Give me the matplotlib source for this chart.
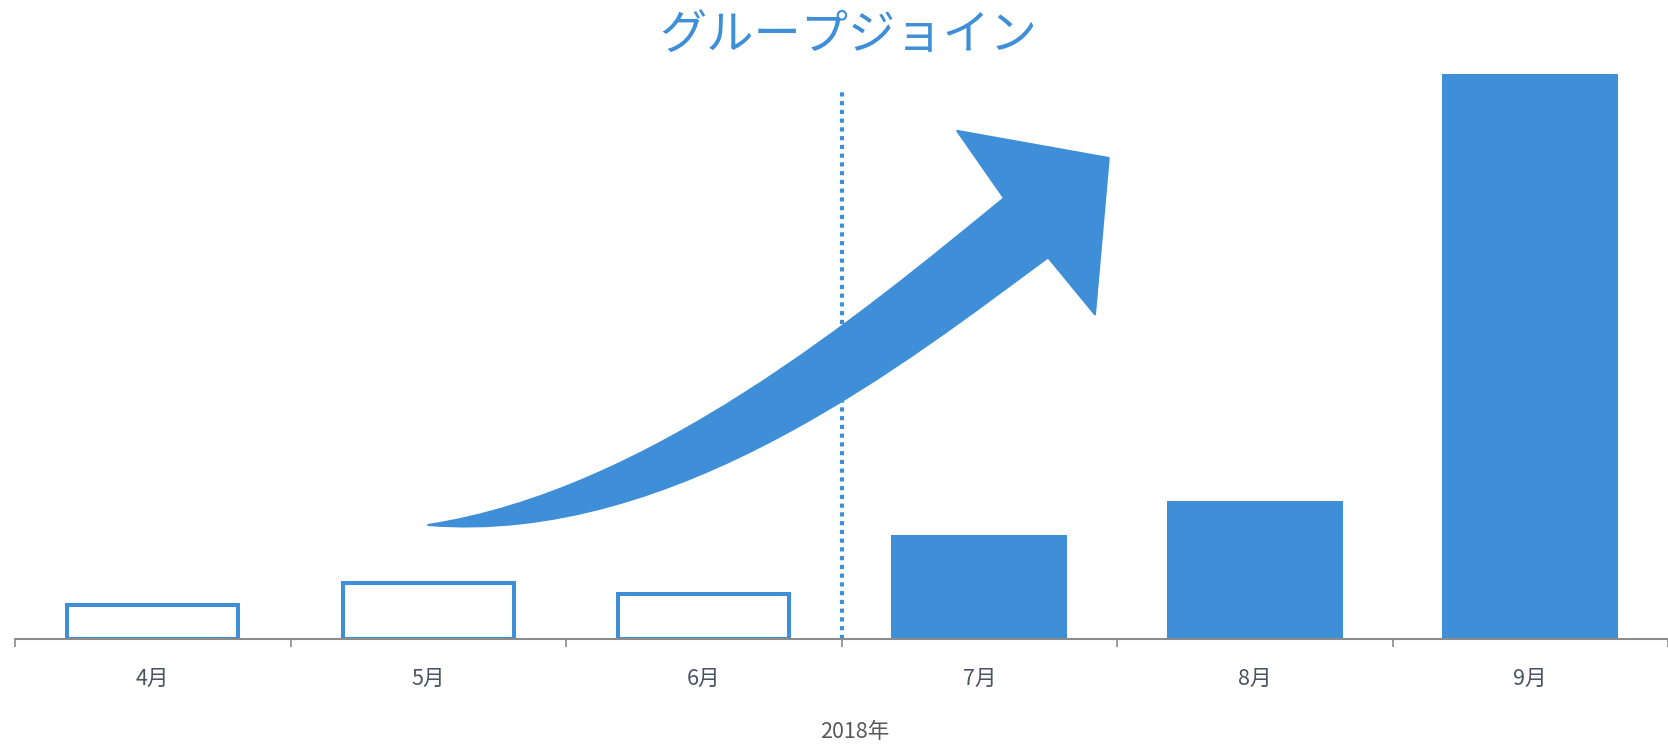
import numpy as np
import matplotlib.pyplot as plt
from matplotlib.path import Path
from matplotlib.patches import PathPatch

plt.rcParams['font.family'] = ['Noto Sans CJK JP', 'DejaVu Sans']

months = ['4月', '5月', '6月', '7月', '8月', '9月']
values = [6, 10, 8, 18.4, 24.4, 100]
filled = [False, False, False, True, True, True]  # 7月以降は塗りつぶし
title = 'グループジョイン'
xlabel = '2018年'
split_index = 3  # 点線は6月と7月の間
split_top = 97.3

# 矢印の輪郭（x: カテゴリ位置, y: 値）
arrow_upper = [(1.0, 20.2), (1.8, 26.2), (2.57, 57.3), (3.09, 78.1)]
arrow_head = [(2.92, 90.0), (3.47, 85.2), (3.42, 57.5), (3.25, 67.6)]
arrow_lower = [(2.75, 49.7), (1.9, 16.6), (1.0, 20.2)]

blue = '#3e8ed8'
axis_grey = '#8c8c8c'

fig = plt.figure(figsize=(16.68, 7.44), dpi=100)
ax = fig.add_axes([15 / 1668, 1 - 639 / 744, 1 - 15 / 1668, 599 / 744])

x = np.arange(len(months))
for i in range(len(months)):
    if filled[i]:
        ax.bar(x[i], values[i], width=0.64, color=blue, linewidth=0, zorder=2)
    else:
        ax.bar(x[i], values[i], width=0.62, facecolor='white', edgecolor=blue,
               linewidth=2.9, zorder=2)

# 区切りの点線
ax.plot([split_index - 0.5, split_index - 0.5], [0, split_top], color=blue,
        linewidth=3, linestyle=(0, (1, 1.1)), dash_capstyle='butt', zorder=1)

# 曲線の矢印
verts = arrow_upper + arrow_head + arrow_lower + [arrow_upper[0]]
codes = ([Path.MOVETO] + [Path.CURVE4] * 3 + [Path.LINETO] * 4
         + [Path.CURVE4] * 3 + [Path.CLOSEPOLY])
arrow = PathPatch(Path(verts, codes), facecolor=blue, edgecolor=blue,
                  linewidth=1.5, joinstyle='round', zorder=3, clip_on=False)
ax.add_patch(arrow)

ax.set_xlim(-0.5, (1668 - 153.25) / 277.5)
ax.set_ylim(0, 106.1)

for side in ['left', 'top', 'right']:
    ax.spines[side].set_visible(False)
ax.spines['bottom'].set_color(axis_grey)
ax.spines['bottom'].set_linewidth(1.5)
ax.spines['bottom'].set_zorder(4)
ax.set_yticks([])

ax.set_xticks(np.arange(len(months) + 1) - 0.5)
ax.set_xticklabels([])
ax.tick_params(axis='x', which='major', length=6, width=1.2, color=axis_grey)
ax.set_xticks(x, minor=True)
ax.set_xticklabels(months, minor=True, fontsize=15.5, color='#4a5263')
ax.tick_params(axis='x', which='minor', length=0, pad=21)

ax.set_xlabel(xlabel, fontsize=15.5, color='#595959')
ax.xaxis.set_label_coords(0.508, -0.137)

fig.text(848 / 1668, 1 - 36 / 744, title, ha='center', va='center',
         fontsize=34, color=blue)

fig.savefig('out.png', dpi=100)
